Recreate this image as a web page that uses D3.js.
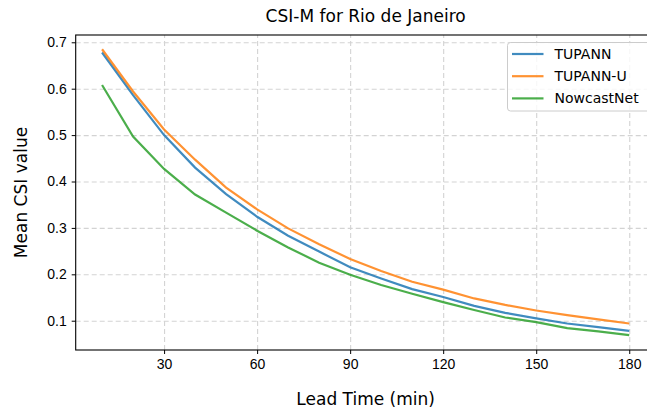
<!DOCTYPE html>
<meta charset="utf-8">
<script src="https://d3js.org/d3.v7.min.js"></script>
<style>
body { margin: 0; background: #fff; }
svg { font-family: "DejaVu Sans", sans-serif; }
.grid line { stroke: #d3d3d3; stroke-width: 1.1px; stroke-dasharray: 5 3; }
.grid path { display: none; }
.axis text { font-size: 14px; fill: #000; }
.axis line, .axis path { stroke: #000; }
</style>
<body>
<div id="chart"></div>
</body>
<script>
// lead times (minutes)
var leadTimes = [10, 20, 30, 40, 50, 60, 70, 80, 90, 100, 110, 120, 130, 140, 150, 160, 170, 180];

var tupann    = [0.678, 0.586, 0.500, 0.430, 0.373, 0.324, 0.283, 0.249, 0.215, 0.191, 0.168, 0.151, 0.132, 0.117, 0.105, 0.094, 0.086, 0.078];
var tupannU   = [0.685, 0.594, 0.512, 0.447, 0.387, 0.340, 0.299, 0.265, 0.233, 0.207, 0.184, 0.167, 0.148, 0.134, 0.122, 0.112, 0.103, 0.094];
var nowcast   = [0.608, 0.497, 0.427, 0.372, 0.333, 0.294, 0.258, 0.225, 0.199, 0.177, 0.158, 0.140, 0.123, 0.107, 0.097, 0.084, 0.077, 0.069];

var seriesNames = ["TUPANN", "TUPANN-U", "NowcastNet"];
var seriesColors = ["#1f77b4", "#ff7f0e", "#2ca02c"];
var xTicks = [30, 60, 90, 120, 150, 180];
var yTicks = [0.1, 0.2, 0.3, 0.4, 0.5, 0.6, 0.7];

var series = [tupann, tupannU, nowcast];

var W = 647, H = 416;
var margin = {top: 35, left: 75.7, bottom: 66, right: -8.6};
var width = W - margin.left - margin.right,
    height = H - margin.top - margin.bottom;

var svg = d3.select("#chart").append("svg")
    .attr("width", W)
    .attr("height", H);

var g = svg.append("g")
    .attr("transform", "translate(" + margin.left + "," + margin.top + ")");

var xScale = d3.scaleLinear()
    .domain([1.5, 188.5])
    .range([0, width]);

var yScale = d3.scaleLinear()
    .domain([0.0369, 0.7157])
    .range([height, 0]);

// grid
g.append("g")
    .attr("class", "grid")
    .attr("transform", "translate(0," + height + ")")
    .call(d3.axisBottom(xScale).tickValues(xTicks).tickSize(-height).tickFormat(""));

g.append("g")
    .attr("class", "grid")
    .call(d3.axisLeft(yScale).tickValues(yTicks).tickSize(-width).tickFormat(""));

// lines
var line = d3.line()
    .x(function(d, i) { return xScale(leadTimes[i]); })
    .y(function(d) { return yScale(d); });

series.forEach(function(s, i) {
    g.append("path")
        .datum(s)
        .attr("fill", "none")
        .attr("stroke", seriesColors[i])
        .attr("stroke-opacity", 0.85)
        .attr("stroke-width", 2.2)
        .attr("d", line);
});

// axes
var xAxis = g.append("g")
    .attr("class", "axis")
    .attr("transform", "translate(0," + height + ")")
    .call(d3.axisBottom(xScale).tickValues(xTicks).tickSize(4).tickPadding(5).tickFormat(d3.format("d")));

var yAxis = g.append("g")
    .attr("class", "axis")
    .call(d3.axisLeft(yScale).tickValues(yTicks).tickSize(4).tickPadding(5).tickFormat(d3.format(".1f")));

xAxis.select(".domain").remove();
yAxis.select(".domain").remove();

// frame
g.append("rect")
    .attr("width", width)
    .attr("height", height)
    .attr("fill", "none")
    .attr("stroke", "#000")
    .attr("stroke-width", 1.1);

// title and labels
svg.append("text")
    .attr("x", margin.left + width / 2)
    .attr("y", 22)
    .attr("text-anchor", "middle")
    .style("font-size", "17px")
    .text("CSI-M for Rio de Janeiro");

svg.append("text")
    .attr("x", margin.left + width / 2)
    .attr("y", 405)
    .attr("text-anchor", "middle")
    .style("font-size", "17px")
    .text("Lead Time (min)");

svg.append("text")
    .attr("transform", "translate(27," + (margin.top + height / 2) + ") rotate(-90)")
    .attr("text-anchor", "middle")
    .style("font-size", "17px")
    .text("Mean CSI value");

// legend
var legend = svg.append("g")
    .attr("transform", "translate(507.5,42.5)");

legend.append("rect")
    .attr("width", 150)
    .attr("height", 68.5)
    .attr("rx", 3)
    .attr("fill", "#fff")
    .attr("fill-opacity", 0.8)
    .attr("stroke", "#ccc");

seriesNames.forEach(function(name, i) {
    var row = legend.append("g")
        .attr("transform", "translate(0," + (11.5 + i * 22.2) + ")");
    row.append("line")
        .attr("x1", 4.5).attr("x2", 36)
        .attr("stroke", seriesColors[i])
        .attr("stroke-opacity", 0.85)
        .attr("stroke-width", 2.2);
    row.append("text")
        .attr("x", 47)
        .attr("dy", "0.35em")
        .style("font-size", "14px")
        .text(name);
});
</script>
